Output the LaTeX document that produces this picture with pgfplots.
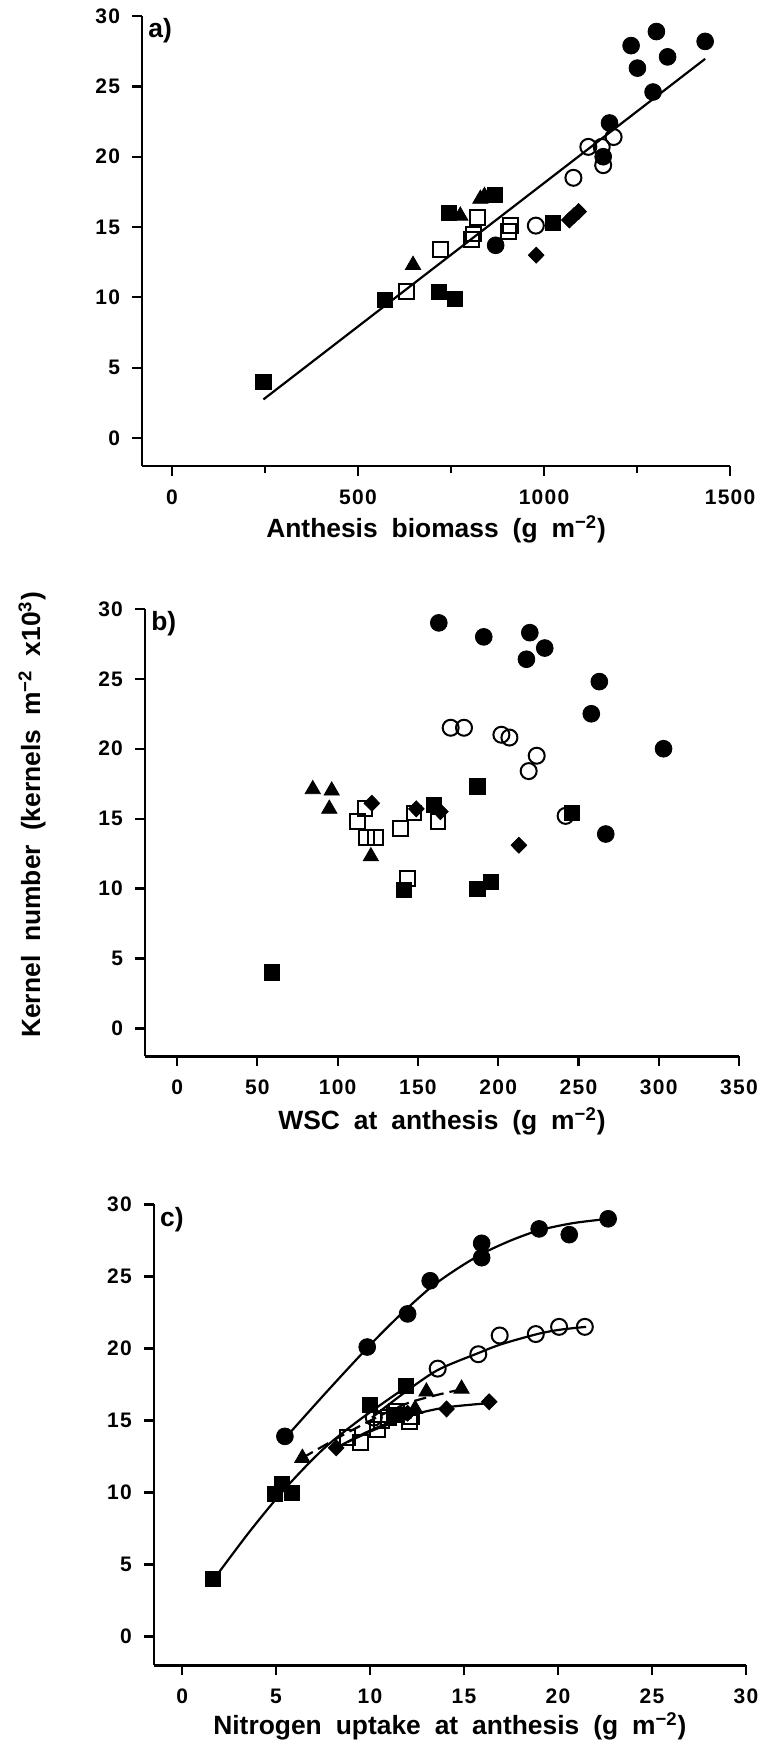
\documentclass[border=0pt]{standalone}
\usepackage{fontspec}
\setmainfont{Liberation Sans}
\newfontfamily\lblfont{Liberation Sans}[WordSpace=1.9]
\newfontfamily\tickfont{Liberation Sans}[LetterSpace=6]
\usepackage{pgfplots}
\pgfplotsset{compat=1.18}
\tikzset{plab/.style={anchor=north west, inner sep=0pt, font=\lblfont\fontsize{13.2}{16}\selectfont\bfseries}}
\pgfplotsset{
  panel/.style={
    scale only axis, axis lines=left, axis line style={-, line width=1.2pt},
    tick align=outside, major tick length=5pt, minor tick length=3.5pt,
    tick style={line width=1.1pt, black},
    ytick={0,5,...,30}, ymin=-2, ymax=30,
    ticklabel style={font=\tickfont\fontsize{10.5}{13}\selectfont\bfseries},
    /pgf/number format/assume math mode=true,
    /pgf/number format/1000 sep={},
    xticklabel style={yshift=-3.4pt},
    yticklabel style={xshift=-2.5pt},
    label style={font=\lblfont\fontsize{13.2}{16}\selectfont\bfseries},
    clip=false,
    xlabel style={at={(axis description cs:0.5,0)}, anchor=base},
  },
  fc/.style={only marks, mark=*, mark size=4.2pt, mark options={fill=black, draw=black}},
  oc/.style={only marks, mark=o, mark size=4pt, mark options={fill=white, draw=black, line width=1pt}},
  fs/.style={only marks, mark=square*, mark size=3.8pt, mark options={fill=black, draw=black}},
  os/.style={only marks, mark=square, mark size=3.7pt, mark options={fill=white, draw=black, line width=1pt}},
  ft/.style={only marks, mark=triangle*, mark size=4.4pt, mark options={fill=black, draw=black}},
  fd/.style={only marks, mark=diamond*, mark size=4pt, mark options={fill=black, draw=black, xscale=1.3}},
  fitline/.style={no marks, black, line width=1.1pt},
}
\begin{document}
\begin{tikzpicture}
\useasboundingbox (0,0) rectangle (381pt,871pt);
% ---------------- panel a
\begin{axis}[panel, at={(71.05pt,637.95pt)}, anchor=south west, width=294pt, height=225pt,
  xmin=-80, xmax=1500, xtick={0,500,1000,1500}, minor xtick={250,750,1250},
  xlabel={Anthesis biomass (g m\textsuperscript{−2})}, xlabel style={yshift=-35.6pt}]
\addplot[fitline] coordinates {(246,2.74) (1433,26.96)};
\addplot[os] coordinates {(630,10.4) (721,13.4) (822,15.7) (810,14.5) (805,14.1) (910,15.1) (904,14.7)};
\addplot[oc] coordinates {(1119,20.7) (1155,20.7) (1187,21.4) (1159,19.4) (1079,18.5) (978,15.1)};
\addplot[fc] coordinates {(1234,27.9) (1302,28.9) (1433,28.2) (1251,26.3) (1332,27.1) (1293,24.6) (1176,22.4) (1159,20.0) (870,13.7)};
\addplot[fs] coordinates {(246,4.0) (573,9.8) (718,10.4) (760,9.9) (744,16.0) (869,17.3) (1023,15.3)};
\addplot[ft] coordinates {(648,12.3) (775,15.8) (829,17.0) (840,17.2)};
\addplot[fd] coordinates {(979,13.0) (1068,15.5) (1080,15.8) (1093,16.1)};
\node[plab] at (rel axis cs:0.01,0.995) {a)};
\end{axis}
% ---------------- panel b
\begin{axis}[panel, at={(72.5pt,342.8pt)}, anchor=south west, width=297pt, height=223.75pt,
  xmin=-20, xmax=350, xtick={0,50,...,350},
  xlabel={WSC at anthesis (g m\textsuperscript{−2})}, xlabel style={yshift=-36.5pt}]
\addplot[os] coordinates {(117,15.7) (112.4,14.8) (118.2,13.65) (123.8,13.65) (139.3,14.3) (143.5,10.7) (147.6,15.4) (162.5,14.8)};
\addplot[oc] coordinates {(170.4,21.5) (178.7,21.5) (202,21.0) (207,20.8) (224,19.5) (219,18.4) (242,15.2)};
\addplot[fc] coordinates {(163,29.0) (191,28.0) (219.7,28.3) (229,27.2) (217.6,26.4) (263,24.8) (258,22.5) (267,13.9) (303,20.0)};
\addplot[fs] coordinates {(59,4.0) (141.4,9.9) (187,10.0) (195.7,10.5) (160,16.0) (187,17.3) (246,15.4)};
\addplot[ft] coordinates {(84.5,17.1) (96.3,17.0) (94.8,15.7) (120.7,12.3)};
\addplot[fd] coordinates {(121.3,16.1) (149,15.7) (164,15.5) (212.9,13.1)};
\node[plab] at (rel axis cs:0.01,0.995) {b)};
\end{axis}
% ---------------- panel c
\begin{axis}[panel, at={(76.95pt,38.3pt)}, anchor=south west, width=296pt, height=230.5pt,
  xmin=-1.5, xmax=30, xtick={0,5,...,30},
  xlabel={Nitrogen uptake at anthesis (g m\textsuperscript{−2})}, xlabel style={yshift=-34.5pt}]
\addplot[fitline, smooth] coordinates {(5.5,13.8) (7.7,17.0) (9.9,20.1) (11.5,22.2) (13.2,24.2) (14.6,25.5) (16,26.6) (17.5,27.5) (19,28.2) (20.8,28.7) (22.7,29.0)};
\addplot[fitline, smooth] coordinates {(10.1,15.2) (11.8,16.9) (13.6,18.5) (15.8,19.7) (17,20.3) (18.9,21.0) (20.1,21.3) (21.5,21.5)};
\addplot[fitline, smooth] coordinates {(1.7,4.0) (3.6,7.3) (5.5,10.3) (7.5,13.0) (9.5,15.1) (11.9,17.3)};
\addplot[fitline, smooth, dash pattern=on 6pt off 3pt] coordinates {(6.4,12.4) (9,14.3) (12,16.2) (15,17.2)};
\addplot[fitline, smooth] coordinates {(8.2,13.1) (10,14.3) (12,15.3) (14,15.9) (16.3,16.2)};
\addplot[fitline, smooth] coordinates {(8.8,13.5) (10.5,14.5) (12.2,15.2)};
\addplot[os] coordinates {(8.8,13.8) (9.5,13.5) (10.4,14.4) (10.6,15.0) (11.4,15.6) (12.1,14.9) (12.2,15.3) (11.0,15.2)};
\addplot[oc] coordinates {(21.43,21.5) (20.06,21.5) (18.82,21.0) (16.9,20.9) (15.76,19.6) (13.6,18.6) (10.2,15.2)};
\addplot[fc] coordinates {(22.67,29.0) (20.6,27.9) (19.0,28.3) (15.94,27.3) (15.94,26.3) (13.2,24.7) (12.0,22.4) (9.85,20.1) (5.47,13.9)};
\addplot[fs] coordinates {(1.63,4.0) (5.3,10.6) (4.94,9.9) (5.83,10.0) (10.0,16.1) (11.3,15.4) (11.9,17.4)};
\addplot[ft] coordinates {(6.4,12.4) (12.4,15.8) (13.0,17.0) (14.87,17.2)};
\addplot[fd] coordinates {(8.2,13.1) (12.0,15.5) (14.07,15.8) (16.34,16.3)};
\node[plab] at (rel axis cs:0.01,0.995) {c)};
\end{axis}
\node[rotate=90, font=\lblfont\fontsize{13.2}{16}\selectfont\bfseries, inner sep=0pt] at (16pt,463.5pt) {Kernel number (kernels m\textsuperscript{−2} x10\textsuperscript{3})};
\end{tikzpicture}
\end{document}
